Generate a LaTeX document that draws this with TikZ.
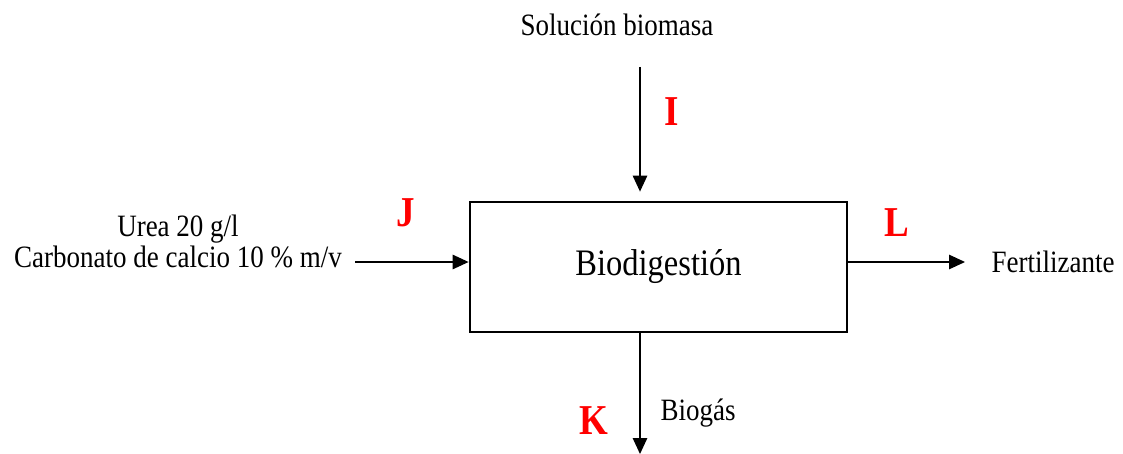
\documentclass[tikz,border=0pt]{standalone}
\usepackage{fontspec}
\setmainfont{Liberation Serif}
\usetikzlibrary{arrows.meta}
\newcommand{\tallbox}[1]{\scalebox{1}[1.15]{#1}}
\tikzset{
  lbl/.style={inner sep=0pt, font=\fontsize{27}{28}\selectfont},
  tag/.style={inner sep=0pt, text=red, font=\fontsize{37}{38}\selectfont\bfseries},
  flow/.style={line width=1.3pt, -{Triangle[length=16pt,width=14.5pt]}},
  unit/.style={draw, line width=2.8pt, minimum width=377pt, minimum height=130pt, inner sep=0pt}
}
\begin{document}
\begin{tikzpicture}[x=1pt, y=-1pt]
  \useasboundingbox (0,0) rectangle (1123,454);

  % process block
  \node[unit] (box) at (658.5,267) {\tallbox{\fontsize{32.5}{34}\selectfont Biodigestión}};

  % stream end points
  \coordinate (topin) at (640,67);
  \coordinate (leftin) at (355,262);
  \coordinate (rightout) at (965,262);
  \coordinate (botout) at (640,454);

  % streams
  \draw[flow, shorten >=9pt] (topin) -- (topin |- box.north);
  \draw[flow] (leftin) -- (box.west |- leftin);
  \draw[flow] (box.east |- rightout) -- (rightout);
  \draw[flow] (box.south -| botout) -- (botout);

  % stream descriptions
  \node[lbl] (sol) at (617,25) {\tallbox{Solución biomasa}};
  \node[lbl, align=center] (feed) at (178,246)
    {\tallbox{\begin{tabular}{@{}c@{}}Urea 20 g/l\\[-1pt] Carbonato de calcio 10 \% m/v\end{tabular}}};
  \node[lbl] (fert) at (1053,262) {\tallbox{Fertilizante}};
  \node[lbl] (gas) at (698,413) {\tallbox{Biogás}};

  % stream tags
  \node[tag] (tI) at (672,112) {\tallbox{I}};
  \node[tag] (tJ) at (406,213) {\tallbox{J}};
  \node[tag] (tL) at (897,223) {\tallbox{L}};
  \node[tag] (tK) at (594,421) {\tallbox{K}};
\end{tikzpicture}
\end{document}
